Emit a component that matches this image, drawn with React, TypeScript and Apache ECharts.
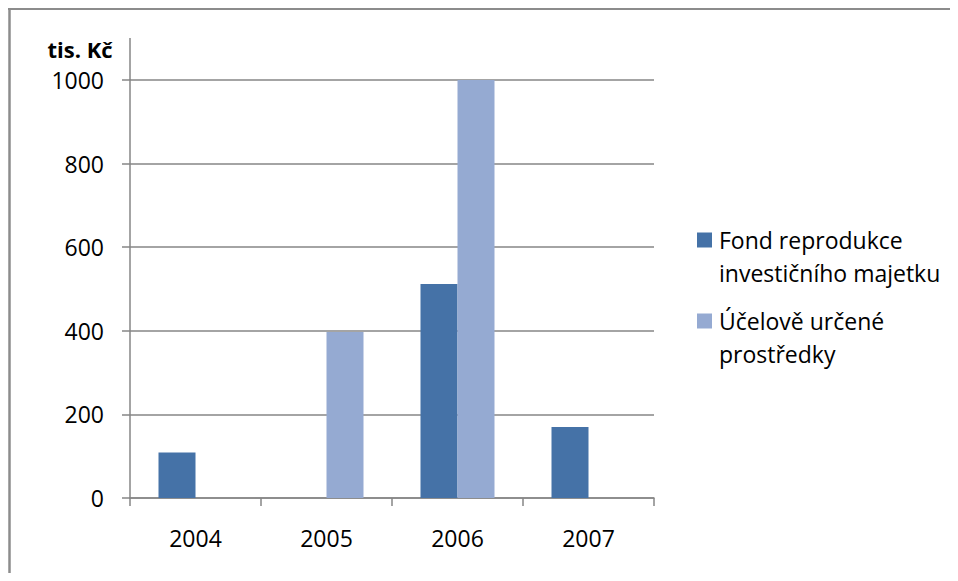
import React, { useEffect, useRef } from 'react';
import * as echarts from 'echarts';

const categories = ['2004', '2005', '2006', '2007'];
const seriesNames = ['Fond reprodukce investičního majetku', 'Účelově určené prostředky'];
const legendLines = [
  ['Fond reprodukce', 'investičního majetku'],
  ['Účelově určené', 'prostředky'],
];
const fondValues = [109, 0, 512, 170];
const ucelValues = [0, 397, 1000, 0];
const yMin = 0;
const yMax = 1000;
const yStep = 200;
const unitLabel = 'tis. Kč';

export default function App() {
  const ref = useRef<HTMLDivElement>(null);
  useEffect(() => {
    const chart = echarts.init(ref.current!, null, { renderer: 'svg' });
    const font = '"Open Sans", sans-serif';
    const L = 33;
    const axisColor = '#868686';
    const legendBase: any = {
      orient: 'vertical',
      left: 689,
      padding: 0,
      itemWidth: 15,
      itemHeight: 15,
      icon: 'rect',
      selectedMode: false,
      formatter: (name: string) => '\n' + legendLines[seriesNames.indexOf(name)].join('\n'),
      textStyle: {
        fontFamily: font,
        fontSize: 23,
        color: '#000',
        lineHeight: L,
        padding: [0, 0, 0, 2],
      },
    };
    chart.setOption({
      animation: false,
      color: ['#4572a7', '#95aad2'],
      grid: { left: 122, top: 72, width: 524, height: 418 },
      legend: [
        { ...legendBase, top: 232 - 1.5 * L, data: [seriesNames[0]] },
        { ...legendBase, top: 313 - 1.5 * L, data: [seriesNames[1]] },
      ],
      xAxis: {
        type: 'category',
        data: categories,
        axisLine: { show: true, lineStyle: { color: axisColor, width: 1.5 } },
        axisTick: { show: true, length: 8, lineStyle: { color: axisColor, width: 1.5 } },
        axisLabel: { margin: 28, fontSize: 23, lineHeight: 23, color: '#000', fontFamily: font },
        splitLine: { show: false },
      },
      yAxis: {
        type: 'value',
        min: yMin,
        max: yMax,
        interval: yStep,
        name: unitLabel,
        nameLocation: 'end',
        nameGap: 31,
        nameTextStyle: {
          fontFamily: font,
          fontWeight: 'bold',
          fontSize: 22,
          color: '#000',
          align: 'center',
          verticalAlign: 'middle',
          padding: [0, 100, 0, 0],
        },
        axisLine: { show: true, lineStyle: { color: axisColor, width: 1.5 } },
        axisTick: { show: true, length: 8, lineStyle: { color: axisColor, width: 1.5 } },
        axisLabel: {
          margin: 26,
          fontSize: 23,
          color: '#000',
          fontFamily: font,
          formatter: (v: number) => String(v),
        },
        splitLine: { show: true, lineStyle: { color: axisColor, width: 1.5 } },
      },
      graphic: [
        { type: 'line', shape: { x1: 0, y1: 1, x2: 942, y2: 1 }, style: { stroke: '#8c8c8c', lineWidth: 2 } },
        { type: 'line', shape: { x1: 1.5, y1: 0, x2: 1.5, y2: 565 }, style: { stroke: '#8c8c8c', lineWidth: 2.5 } },
        { type: 'line', shape: { x1: 122, y1: 30, x2: 122, y2: 72 }, style: { stroke: axisColor, lineWidth: 1.5 } },
      ],
      series: [
        { type: 'bar', name: seriesNames[0], data: fondValues, barWidth: 37, barGap: '0%' },
        { type: 'bar', name: seriesNames[1], data: ucelValues, barWidth: 37, barGap: '0%' },
      ],
    });
    return () => chart.dispose();
  }, []);
  return <div ref={ref} style={{ width: 942, height: 565 }} />;
}
